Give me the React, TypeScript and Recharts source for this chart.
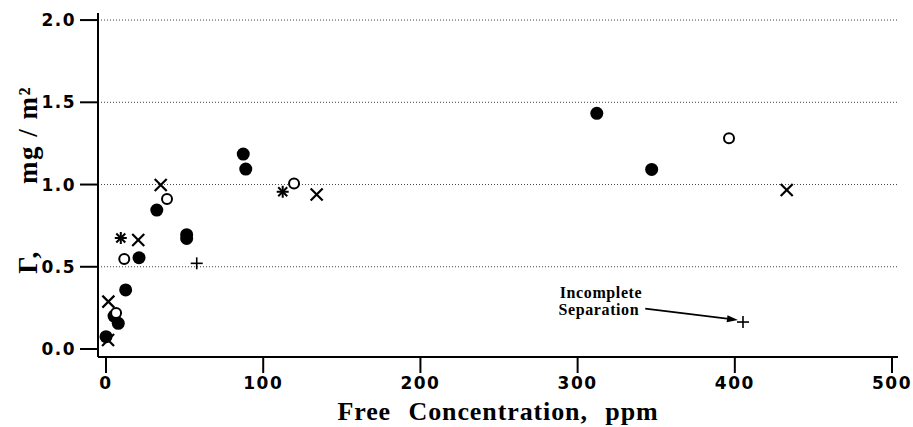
import { ScatterChart, Scatter, XAxis, YAxis, ReferenceLine, Label } from 'recharts';

type Pt = { x: number; y: number };

// Γ (mg/m²) against free concentration (ppm)
const filledCircles: Pt[] = [
  { x: 0, y: 0.075 },
  { x: 5.1, y: 0.2 },
  { x: 7.8, y: 0.156 },
  { x: 12.5, y: 0.359 },
  { x: 21.0, y: 0.555 },
  { x: 32.3, y: 0.845 },
  { x: 51.3, y: 0.695 },
  { x: 51.3, y: 0.672 },
  { x: 87.3, y: 1.185 },
  { x: 88.9, y: 1.094 },
  { x: 312.2, y: 1.433 },
  { x: 347.1, y: 1.092 },
];

const openCircles: Pt[] = [
  { x: 6.4, y: 0.219 },
  { x: 11.6, y: 0.547 },
  { x: 38.8, y: 0.912 },
  { x: 119.6, y: 1.007 },
  { x: 396.3, y: 1.281 },
];

const crosses: Pt[] = [
  { x: 1.3, y: 0.055 },
  { x: 1.5, y: 0.288 },
  { x: 20.5, y: 0.663 },
  { x: 34.8, y: 0.997 },
  { x: 134.0, y: 0.94 },
  { x: 433.0, y: 0.967 },
];

const asterisks: Pt[] = [
  { x: 9.4, y: 0.675 },
  { x: 112.4, y: 0.956 },
];

const pluses: Pt[] = [
  { x: 57.7, y: 0.521 },
  { x: 405.2, y: 0.164 },
];

const xTicks = [0, 100, 200, 300, 400, 500];
const yTicks = [0, 0.5, 1.0, 1.5, 2.0];
const gridValues = [0.5, 1.0, 1.5, 2.0];

// arrow for the "Incomplete Separation" note
const arrowFrom: Pt = { x: 343.0, y: 0.246 };
const arrowTo: Pt = { x: 402.0, y: 0.176 };

const tickFont = { fontFamily: 'DejaVu Sans', fontWeight: 700, fontSize: 17, fill: '#000', letterSpacing: 1.5 };
const serif = 'Liberation Serif, Times New Roman, serif';

const FilledDot = (p: any) => <circle cx={p.cx} cy={p.cy} r={6.5} fill="#000" />;
const OpenDot = (p: any) => <circle cx={p.cx} cy={p.cy} r={5} fill="#fff" stroke="#000" strokeWidth={2} />;
const Cross = (p: any) => {
  const s = 6;
  return (
    <g stroke="#000" strokeWidth={2.2}>
      <line x1={p.cx - s} y1={p.cy - s} x2={p.cx + s} y2={p.cy + s} />
      <line x1={p.cx - s} y1={p.cy + s} x2={p.cx + s} y2={p.cy - s} />
    </g>
  );
};
const Star = (p: any) => {
  const s = 6;
  const d = 4.5;
  return (
    <g stroke="#000" strokeWidth={2}>
      <line x1={p.cx} y1={p.cy - s} x2={p.cx} y2={p.cy + s} />
      <line x1={p.cx - s} y1={p.cy} x2={p.cx + s} y2={p.cy} />
      <line x1={p.cx - d} y1={p.cy - d} x2={p.cx + d} y2={p.cy + d} />
      <line x1={p.cx - d} y1={p.cy + d} x2={p.cx + d} y2={p.cy - d} />
    </g>
  );
};
const Plus = (p: any) => {
  const s = 6;
  return (
    <g stroke="#000" strokeWidth={1.6}>
      <line x1={p.cx} y1={p.cy - s} x2={p.cx} y2={p.cy + s} />
      <line x1={p.cx - s} y1={p.cy} x2={p.cx + s} y2={p.cy} />
    </g>
  );
};

const Arrow = (p: any) => {
  const { x1, y1, x2, y2 } = p;
  const ang = Math.atan2(y2 - y1, x2 - x1);
  const len = 11;
  const w = 3.5;
  const bx = x2 - len * Math.cos(ang);
  const by = y2 - len * Math.sin(ang);
  const px = -Math.sin(ang) * w;
  const py = Math.cos(ang) * w;
  return (
    <g>
      <line x1={x1} y1={y1} x2={bx} y2={by} stroke="#000" strokeWidth={1.8} />
      <polygon points={`${x2},${y2} ${bx + px},${by + py} ${bx - px},${by - py}`} fill="#000" />
      <text x={x1 - 3} y={y1 - 11} textAnchor="end" fontFamily={serif} fontWeight={700} fontSize={16} letterSpacing={0.6}>
        Incomplete
      </text>
      <text x={x1 - 6} y={y1 + 6} textAnchor="end" fontFamily={serif} fontWeight={700} fontSize={16} letterSpacing={0.6}>
        Separation
      </text>
    </g>
  );
};

export default function App() {
  return (
    <div style={{ position: 'fixed', left: 0, top: 0, background: '#fff' }}>
      <ScatterChart width={913} height={427} margin={{ top: 13, right: 15, bottom: 0, left: 0 }}>
        {gridValues.map((v) => (
          <ReferenceLine key={v} y={v} stroke="#444" strokeWidth={1} strokeDasharray="1 2" />
        ))}
        <XAxis
          type="number"
          dataKey="x"
          domain={[-5.1, 503.8]}
          ticks={xTicks}
          allowDataOverflow
          height={70}
          axisLine={{ stroke: '#000', strokeWidth: 2 }}
          tickLine={{ stroke: '#000', strokeWidth: 2 }}
          tickSize={16}
          tickMargin={4}
          tick={tickFont}
        >
          <Label
            content={(props: any) => {
              const vb = props.viewBox || { x: 98, width: 800 };
              return (
                <text
                  x={vb.x + vb.width / 2}
                  y={420}
                  textAnchor="middle"
                  fontFamily={serif}
                  fontWeight={700}
                  fontSize={26}
                  letterSpacing={0.9}
                  wordSpacing={10}
                >
                  Free Concentration, ppm
                </text>
              );
            }}
          />
        </XAxis>
        <YAxis
          type="number"
          dataKey="y"
          domain={[-0.0486, 2.043]}
          ticks={yTicks}
          allowDataOverflow
          width={98}
          axisLine={{ stroke: '#000', strokeWidth: 2 }}
          tickLine={{ stroke: '#000', strokeWidth: 2 }}
          tickSize={18}
          tickMargin={4}
          tick={tickFont}
          tickFormatter={(v: number) => v.toFixed(1)}
        >
          <Label
            content={() => (
              <g fontFamily={serif} fontWeight={700} fontSize={27} letterSpacing={1.5}>
                <text x={37} y={262} textAnchor="middle" transform="rotate(-90 37 262)">
                  Γ,
                </text>
                <text x={37} y={135} textAnchor="middle" transform="rotate(-90 37 135)">
                  mg / m²
                </text>
              </g>
            )}
          />
        </YAxis>
        <ReferenceLine
          segment={[arrowFrom, arrowTo]}
          ifOverflow="visible"
          shape={Arrow}
        />
        <Scatter data={filledCircles} shape={FilledDot} isAnimationActive={false} />
        <Scatter data={openCircles} shape={OpenDot} isAnimationActive={false} />
        <Scatter data={crosses} shape={Cross} isAnimationActive={false} />
        <Scatter data={asterisks} shape={Star} isAnimationActive={false} />
        <Scatter data={pluses} shape={Plus} isAnimationActive={false} />
      </ScatterChart>
    </div>
  );
}
